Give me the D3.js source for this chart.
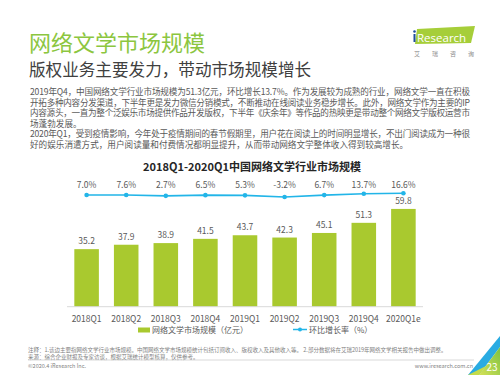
<!DOCTYPE html>
<html><head><meta charset="utf-8">
<script src="https://cdn.jsdelivr.net/npm/d3@7/dist/d3.min.js"></script>
<style>
html,body{margin:0;padding:0;background:#fff;}
svg{display:block;font-family:"Noto Sans CJK SC","Noto Sans",sans-serif;}
</style></head>
<body>
<script>
const categories = ["2018Q1","2018Q2","2018Q3","2018Q4","2019Q1","2019Q2","2019Q3","2019Q4","2020Q1e"];
const marketSize = [35.2,37.9,38.9,41.5,43.7,42.3,45.1,51.3,59.8];
const growthRate = [7.0,7.6,2.7,6.5,5.3,-3.2,6.7,13.7,16.6];
const growthLabels = ["7.0%","7.6%","2.7%","6.5%","5.3%","-3.2%","6.7%","13.7%","16.6%"];
const legendLabels = ["网络文学市场规模（亿元）","环比增长率（%）"];
const bodyLines = [
 "2019年Q4，中国网络文学行业市场规模为51.3亿元，环比增长13.7%。作为发展较为成熟的行业，网络文学一直在积极",
 "开拓多种内容分发渠道，下半年更是发力微信分销模式，不断推动在线阅读业务稳步增长。此外，网络文学作为主要的IP",
 "内容源头，一直为整个泛娱乐市场提供作品开发版权，下半年《庆余年》等作品的热映更是带动整个网络文学版权运营市",
 "场蓬勃发展。",
 "2020年Q1，受到疫情影响，今年处于疫情期间的春节假期里，用户花在阅读上的时间明显增长，不出门阅读成为一种很",
 "好的娱乐消遣方式，用户阅读量和付费情况都明显提升，从而带动网络文学整体收入得到较高增长。"
];
const bodyJustify = [true,true,true,false,true,false];

const W=500,H=375;
const svg=d3.select("body").append("svg").attr("width",W).attr("height",H);

// Titles
svg.append("text").attr("x",29).attr("y",51).attr("font-size",22).attr("fill","#8cc63f").text("网络文学市场规模");
svg.append("text").attr("x",29).attr("y",76).attr("font-size",16.6).attr("fill","#404040").text("版权业务主要发力，带动市场规模增长");

// Logo
const logo=svg.append("g");
logo.append("polygon").attr("points","417,29 475,26 471,43 415,44").attr("fill","#a6ce39");
logo.append("circle").attr("cx",414.5).attr("cy",31.5).attr("r",1.3).attr("fill","#1f4e9c");
logo.append("rect").attr("x",413.5).attr("y",34).attr("width",2).attr("height",8).attr("fill","#1f4e9c");
logo.append("text").attr("x",417).attr("y",41.5).attr("font-size",11.5).attr("fill","#fff").attr("font-family","Open Sans, sans-serif").text("Research");
logo.append("text").attr("x",414).attr("y",56).attr("font-size",6).attr("fill","#8c8c8c").attr("letter-spacing",12).text("艾瑞咨询");

// Body text
const body=svg.append("g").attr("font-size",8.6).attr("fill","#595959");
bodyLines.forEach((t,i)=>{
  const tx=body.append("text").attr("x",30).attr("y",95+i*10.6).text(t);
  if(bodyJustify[i]) tx.attr("textLength",440).attr("lengthAdjust","spacing");
});

// Chart title
svg.append("text").attr("x",252).attr("y",171).attr("text-anchor","middle").attr("font-size",11).attr("font-weight","bold").attr("fill","#262626").text("2018Q1-2020Q1中国网络文学行业市场规模");

// Scales
const x=d3.scaleBand().domain(categories).range([67,423]).paddingInner(0.38).paddingOuter(0.185);
const y=d3.scaleLinear().domain([0,60]).range([306.7,208.6]);
const yLine=d3.scaleLinear().domain([-3.2,16.6]).range([197,193.2]);

// Bars
svg.append("g").selectAll("rect").data(marketSize).join("rect")
  .attr("x",(d,i)=>x(categories[i])).attr("width",x.bandwidth())
  .attr("y",d=>y(d)).attr("height",d=>y(0)-y(d)).attr("fill","#a9c92f");
svg.append("g").attr("font-size",8.5).attr("fill","#595959").attr("text-anchor","middle")
  .selectAll("text").data(marketSize).join("text")
  .attr("x",(d,i)=>x(categories[i])+x.bandwidth()/2).attr("y",d=>y(d)-5).text(d=>d.toFixed(1));

// X axis
const xAxis=svg.append("g").attr("transform","translate(0,306.7)").call(d3.axisBottom(x).tickSize(0).tickPadding(9));
xAxis.select(".domain").attr("stroke","#d9d9d9").attr("d","M67,0H423");
xAxis.selectAll("text").attr("font-size",8.5).attr("fill","#595959").attr("font-family","Noto Sans CJK SC, sans-serif");

// Line
const cx=(d,i)=>x(categories[i])+x.bandwidth()/2;
svg.append("path").datum(growthRate).attr("fill","none").attr("stroke","#22b5e8").attr("stroke-width",1.6)
  .attr("d",d3.line().x(cx).y(d=>yLine(d)));
svg.append("g").selectAll("circle").data(growthRate).join("circle")
  .attr("cx",cx).attr("cy",d=>yLine(d)).attr("r",2.3).attr("fill","#22b5e8");
svg.append("g").attr("font-size",8.5).attr("fill","#595959").attr("text-anchor","middle")
  .selectAll("text").data(growthRate).join("text")
  .attr("x",cx).attr("y",188).text((d,i)=>growthLabels[i]);

// Legend
const lg=svg.append("g").attr("font-size",8).attr("fill","#595959");
lg.append("rect").attr("x",138).attr("y",327.5).attr("width",12).attr("height",5).attr("fill","#a9c92f");
lg.append("text").attr("x",152).attr("y",333).text(legendLabels[0]);
lg.append("line").attr("x1",293).attr("x2",307).attr("y1",329.5).attr("y2",329.5).attr("stroke","#22b5e8").attr("stroke-width",1.5);
lg.append("circle").attr("cx",300).attr("cy",329.5).attr("r",2).attr("fill","#22b5e8");
lg.append("text").attr("x",309).attr("y",333).text(legendLabels[1]);

// Footer
const ft=svg.append("g").attr("font-size",5.5).attr("fill","#7f7f7f");
ft.append("text").attr("x",28).attr("y",352).text("注释：1.该边主要指网络文学行业市场规模。中国网络文学市场规模统计包括订阅收入、版权收入及其他收入等。 2.部分数据将在艾瑞2019年网络文学相关报告中做出调整。");
ft.append("text").attr("x",28).attr("y",358.5).text("来源：综合企业财报及专家访谈，根据艾瑞统计模型核算，仅供参考。");
svg.append("line").attr("x1",28).attr("x2",474).attr("y1",360).attr("y2",360).attr("stroke","#bfbfbf").attr("stroke-width",0.6);
ft.append("text").attr("x",28).attr("y",368).text("©2020.4 iResearch Inc.");
ft.append("text").attr("x",473).attr("y",368).attr("text-anchor","end").text("www.iresearch.com.cn");

// Corner decoration
const defs=svg.append("defs");
const gr=defs.append("linearGradient").attr("id","cg").attr("x1","0").attr("y1","1").attr("x2","1").attr("y2","0");
gr.append("stop").attr("offset","0").attr("stop-color","#d4e157");
gr.append("stop").attr("offset","1").attr("stop-color","#7cc242");
svg.append("polygon").attr("points","500,336 500,347 479,375 468,375").attr("fill","#29abe2");
svg.append("polygon").attr("points","500,347 500,375 479,375").attr("fill","url(#cg)");
svg.append("polygon").attr("points","468,375 479,375 486,366").attr("fill","#c5dc4a");
svg.append("text").attr("x",492).attr("y",371).attr("text-anchor","middle").attr("font-size",10).attr("fill","#fff").text("23");
</script>
</body></html>
